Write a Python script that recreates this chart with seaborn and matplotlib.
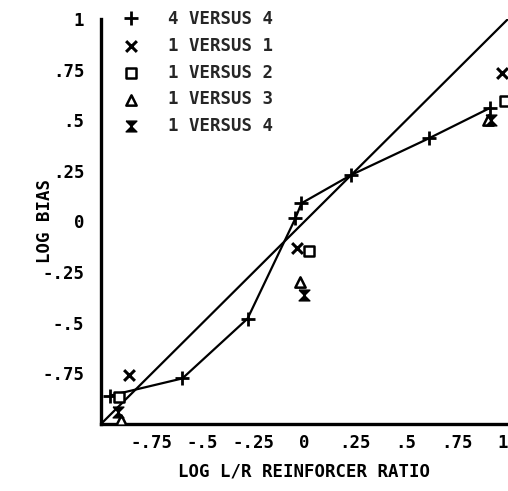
import matplotlib
matplotlib.use("Agg")
import matplotlib.pyplot as plt
import seaborn as sns

# 4 versus 4 condition (connected)
x_4v4 = [-0.955, -0.60, -0.28, -0.045, -0.015, 0.23, 0.61, 0.91]
y_4v4 = [-0.86, -0.775, -0.48, 0.015, 0.09, 0.23, 0.41, 0.56]

# 1 versus N conditions (unconnected)
x_1v1 = [-0.86, -0.035, 0.97]
y_1v1 = [-0.76, -0.13, 0.735]
x_1v2 = [-0.91, 0.02, 0.985]
y_1v2 = [-0.865, -0.145, 0.595]
x_1v3 = [-0.90, -0.02, 0.90]
y_1v3 = [-0.98, -0.30, 0.50]
x_1v4 = [-0.915, 0.0, 0.915]
y_1v4 = [-0.94, -0.365, 0.50]

labels = ["4 VERSUS 4", "1 VERSUS 1", "1 VERSUS 2", "1 VERSUS 3", "1 VERSUS 4"]
tick_vals = [-0.75, -0.5, -0.25, 0, 0.25, 0.5, 0.75, 1]
tick_text = ["-.75", "-.5", "-.25", "0", ".25", ".5", ".75", "1"]

sns.set_theme(style="white")
plt.rcParams["font.family"] = ["DejaVu Sans Mono", "DejaVu Sans"]
plt.rcParams["font.weight"] = "bold"

fig = plt.figure(figsize=(5.08, 4.91), dpi=100)
ax = fig.add_axes([0.1988, 0.1365, 0.8012, 0.8248])

# unity line
ax.plot([-1, 1], [-1, 1], color="black", lw=1.6, zorder=1)

hourglass = [(-1, 1), (1, 1), (-1, -1), (1, -1), (-1, 1)]

sns.lineplot(x=x_4v4, y=y_4v4, sort=False, ax=ax, color="black", lw=1.6,
             marker="+", markersize=10, markeredgewidth=2,
             markeredgecolor="black", label=labels[0], zorder=3)
sns.scatterplot(x=x_1v1, y=y_1v1, ax=ax, marker="x", s=60, color="black",
                linewidth=2.2, label=labels[1], zorder=4)
sns.scatterplot(x=x_1v2, y=y_1v2, ax=ax, marker="s", s=50, facecolor="white",
                edgecolor="black", linewidth=1.8, label=labels[2], zorder=4)
sns.scatterplot(x=x_1v3, y=y_1v3, ax=ax, marker="^", s=55, facecolor="white",
                edgecolor="black", linewidth=1.8, label=labels[3], zorder=4)
sns.scatterplot(x=x_1v4, y=y_1v4, ax=ax, marker=hourglass, s=60, color="black",
                edgecolor="black", linewidth=1.0, label=labels[4], zorder=4)

ax.set_xlim(-1, 1)
ax.set_ylim(-1, 1)
ax.set_xticks(tick_vals)
ax.set_xticklabels(tick_text)
ax.set_yticks(tick_vals)
ax.set_yticklabels(tick_text)

for side in ["top", "right"]:
    ax.spines[side].set_visible(False)
for side in ["left", "bottom"]:
    ax.spines[side].set_linewidth(2.4)
    ax.spines[side].set_color("black")

ax.tick_params(axis="both", direction="in", length=7, width=2, color="black",
               labelsize=12.5, labelcolor="black")
ax.tick_params(axis="y", pad=12)
ax.tick_params(axis="x", pad=7)
for lab in ax.get_xticklabels() + ax.get_yticklabels():
    lab.set_fontweight("bold")
# keep the last x tick label inside the figure edge
ax.get_xticklabels()[-1].set_horizontalalignment("right")

ax.set_xlabel("LOG L/R REINFORCER RATIO", fontsize=12.5, fontweight="bold",
              color="black")
ax.xaxis.set_label_coords(0.5, -0.095)
ax.set_ylabel("LOG BIAS", fontsize=12.5, fontweight="bold", color="black")
ax.yaxis.set_label_coords(-0.115, 0.5)

leg = ax.legend(loc="upper left", bbox_to_anchor=(0.015, 1.06), frameon=False,
                prop={"family": "DejaVu Sans Mono", "weight": "bold", "size": 12.5},
                handlelength=1.0, handletextpad=1.6, labelspacing=0.5)
for h in leg.legend_handles:
    try:
        h.set_linestyle("none")
    except Exception:
        pass

ax.set_facecolor("white")
fig.patch.set_facecolor("white")
fig.savefig("out.png", dpi=100, facecolor="white")
